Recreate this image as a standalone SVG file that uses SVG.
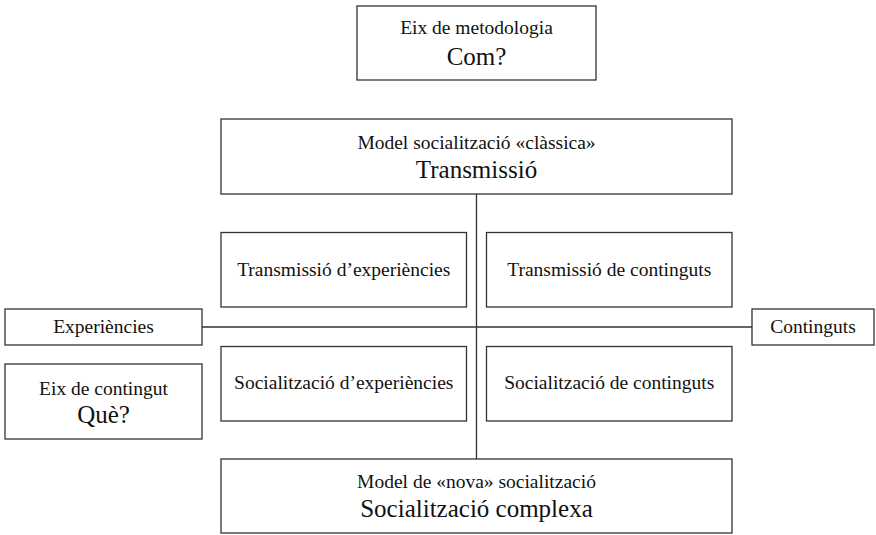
<svg xmlns="http://www.w3.org/2000/svg" width="876" height="535" viewBox="0 0 876 535">
<style>
rect{fill:#fff;stroke:#333;stroke-width:1.3}
line{stroke:#333;stroke-width:1.3}
text{font-family:"Liberation Serif","DejaVu Serif",serif;fill:#111;text-anchor:middle}
.s{font-size:19.5px}
.b{font-size:25px}
</style>
<rect width="876" height="535" style="fill:#fff;stroke:none"/>
<g id="connectors">
<line x1="476.5" y1="194" x2="476.5" y2="459"/>
<line x1="202" y1="327" x2="752" y2="327"/>
</g>
<g id="metodologia">
<rect x="357" y="6" width="239" height="74"/>
<text class="s" x="476.5" y="34">Eix de metodologia</text>
<text class="b" x="476.5" y="65">Com?</text>
</g>
<g id="transmissio">
<rect x="221" y="119" width="511" height="75"/>
<text class="s" x="476.5" y="149">Model socialització «clàssica»</text>
<text class="b" x="476.5" y="178">Transmissió</text>
</g>
<g id="trans-exp">
<rect x="221" y="232.5" width="245.5" height="74.5"/>
<text class="s" x="343.75" y="276">Transmissió d’experiències</text>
</g>
<g id="trans-cont">
<rect x="486.5" y="232.5" width="245.5" height="74.5"/>
<text class="s" x="609.25" y="276">Transmissió de continguts</text>
</g>
<g id="experiencies">
<rect x="5" y="309" width="197" height="36"/>
<text class="s" x="103.5" y="333">Experiències</text>
</g>
<g id="continguts">
<rect x="752" y="309" width="122" height="36"/>
<text class="s" x="813" y="333">Continguts</text>
</g>
<g id="contingut">
<rect x="5" y="364" width="197" height="75"/>
<text class="s" x="103.5" y="395">Eix de contingut</text>
<text class="b" x="103.5" y="423">Què?</text>
</g>
<g id="soc-exp">
<rect x="221" y="346.5" width="245.5" height="74.5"/>
<text class="s" x="343.75" y="389">Socialització d’experiències</text>
</g>
<g id="soc-cont">
<rect x="486.5" y="346.5" width="245.5" height="74.5"/>
<text class="s" x="609.25" y="389">Socialització de continguts</text>
</g>
<g id="complexa">
<rect x="221" y="459" width="511" height="74"/>
<text class="s" x="476.5" y="488">Model de «nova» socialització</text>
<text class="b" x="476.5" y="517">Socialització complexa</text>
</g>
</svg>
